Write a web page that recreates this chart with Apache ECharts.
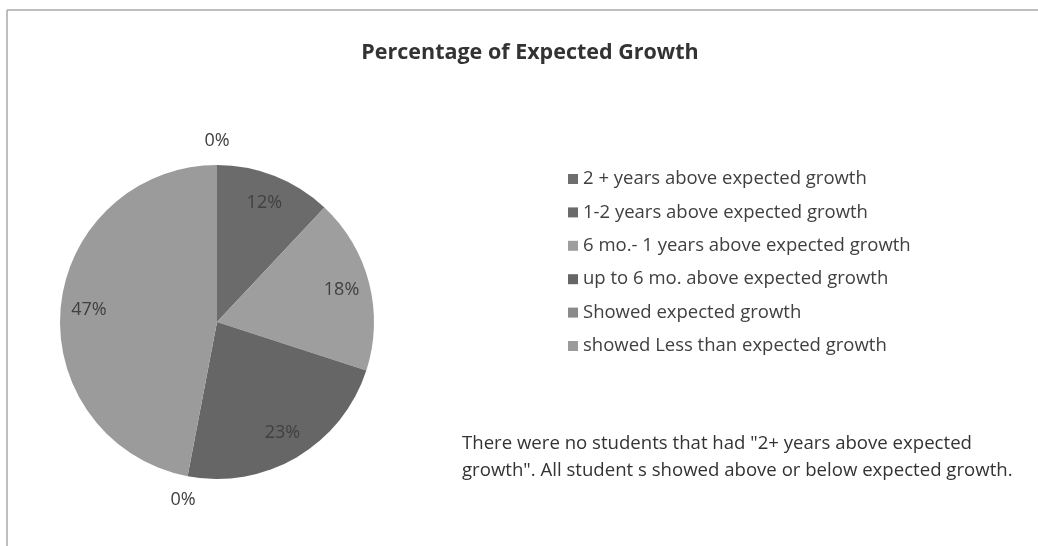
<!DOCTYPE html>
<html>
<head>
<meta charset="utf-8">
<script src="https://cdn.jsdelivr.net/npm/echarts@6/dist/echarts.min.js"></script>
<style>
  html, body { margin: 0; padding: 0; background: #ffffff; }
  #chart { width: 1038px; height: 546px; }
</style>
</head>
<body>
<div id="chart"></div>
<script>
// Growth categories and share of students (percent)
const categories = [
  '2 + years above expected growth',
  '1-2 years above expected growth',
  '6 mo.- 1 years above expected growth',
  'up to 6 mo. above expected growth',
  'Showed expected growth',
  'showed Less than expected growth'
];
const percentages = [0, 12, 18, 23, 0, 47];
const sliceColors = ['#6e6e6e', '#6b6b6b', '#9e9e9e', '#666666', '#8a8a8a', '#9b9b9b'];

const titleText = 'Percentage of Expected Growth';
const noteLines = [
  'There were no students that had "2+ years above expected',
  'growth". All student s showed above or below expected growth.'
];

const FONT = '"Open Sans", "Liberation Sans", sans-serif';
const CENTER = [217, 322];
const R = 157;

const sliceData = categories.map((name, i) => ({
  name: name,
  value: percentages[i],
  itemStyle: { color: sliceColors[i] }
}));

const chart = echarts.init(document.getElementById('chart'), null, { renderer: 'canvas' });

chart.setOption({
  backgroundColor: '#ffffff',
  animation: false,
  title: {
    text: titleText,
    left: 530,
    textAlign: 'center',
    top: 42,
    padding: 0,
    textStyle: { fontFamily: FONT, fontSize: 21.5, fontWeight: 'bold', color: '#333333' }
  },
  legend: {
    orient: 'vertical',
    left: 568,
    top: 169,
    padding: 0,
    icon: 'rect',
    itemWidth: 10,
    itemHeight: 10,
    itemGap: 13.4,
    selectedMode: false,
    data: categories,
    textStyle: { fontFamily: FONT, fontSize: 18.5, color: '#404040', lineHeight: 20 }
  },
  graphic: [
    { type: 'line', shape: { x1: 7, y1: 10, x2: 1038, y2: 10 }, style: { stroke: '#a8a8a8', lineWidth: 1.5 } },
    { type: 'line', shape: { x1: 7, y1: 10, x2: 7, y2: 546 }, style: { stroke: '#a8a8a8', lineWidth: 1.5 } },
    {
      type: 'text', left: 462, top: 430,
      style: {
        text: noteLines.join('\n'),
        font: '18.6px ' + FONT,
        fill: '#333333',
        lineHeight: 27
      }
    }
  ],
  series: [
    {
      // the slices themselves
      type: 'pie',
      center: CENTER,
      radius: R,
      startAngle: 90,
      clockwise: true,
      silent: true,
      label: { show: false },
      labelLine: { show: false },
      data: sliceData
    },
    {
      // transparent ring carrying the inner value labels of non-empty slices
      type: 'pie',
      center: CENTER,
      radius: [R * 0.6, R],
      startAngle: 90,
      clockwise: true,
      silent: true,
      legendHoverLink: false,
      itemStyle: { color: 'rgba(0,0,0,0)' },
      label: {
        show: true,
        position: 'inside',
        fontFamily: FONT,
        fontSize: 18,
        color: '#404040',
        formatter: p => (p.value > 0 ? p.value + '%' : '')
      },
      labelLine: { show: false },
      data: categories.map((name, i) => ({ name: name + ' ', value: percentages[i] }))
    },
    {
      // transparent outer ring carrying the labels of empty slices
      type: 'pie',
      center: CENTER,
      radius: [R, R * 1.27],
      startAngle: 90,
      clockwise: true,
      silent: true,
      legendHoverLink: false,
      itemStyle: { color: 'rgba(0,0,0,0)' },
      label: {
        show: true,
        position: 'inside',
        fontFamily: FONT,
        fontSize: 18,
        color: '#404040',
        formatter: p => (p.value === 0 ? p.value + '%' : '')
      },
      labelLine: { show: false },
      data: categories.map((name, i) => ({ name: name + '  ', value: percentages[i] }))
    }
  ]
});
</script>
</body>
</html>
